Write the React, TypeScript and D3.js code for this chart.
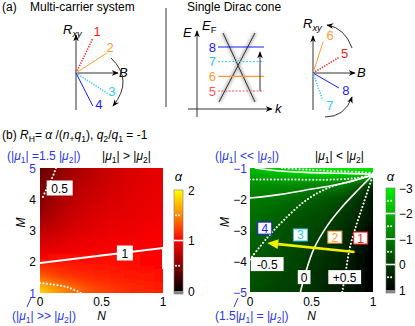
import React from 'react';
import * as d3 from 'd3';

const FONT = '"Liberation Sans", Arial, Helvetica, sans-serif';
const BLUE = '#2b36e6';
const RED = '#ff1a1a';
const ORANGE = '#ff9a33';
const CYAN = '#33c8f5';
const DBLUE = '#1a1aff';

// ---- panel (b) left: alpha read on a grid (rows M = 5..1, cols N = 0..1)
const nGrid = [0, 0.125, 0.25, 0.375, 0.5, 0.625, 0.75, 0.875, 1];
const mGridLeft = [5, 4.5, 4, 3.5, 3, 2.5, 2, 1.5, 1];
const alphaLeft = [
  [0.40, 0.50, 0.62, 0.70, 0.76, 0.81, 0.85, 0.88, 0.90],
  [0.45, 0.57, 0.67, 0.74, 0.79, 0.83, 0.87, 0.89, 0.91],
  [0.50, 0.63, 0.72, 0.78, 0.83, 0.86, 0.89, 0.91, 0.93],
  [0.60, 0.70, 0.78, 0.83, 0.87, 0.89, 0.91, 0.93, 0.95],
  [0.72, 0.79, 0.84, 0.88, 0.91, 0.93, 0.94, 0.96, 0.97],
  [0.86, 0.89, 0.92, 0.94, 0.96, 0.97, 0.97, 0.98, 0.99],
  [1.02, 1.03, 1.03, 1.03, 1.03, 1.03, 1.03, 1.02, 1.02],
  [1.33, 1.24, 1.18, 1.14, 1.12, 1.10, 1.09, 1.08, 1.06],
  [1.85, 1.62, 1.45, 1.33, 1.25, 1.20, 1.16, 1.13, 1.10],
];
// contours (N, M)
const leftC05 = [[0.13, 5], [0.09, 4.6], [0.05, 4.3], [0.015, 4.0]];
const leftC1 = [[0, 1.96], [0.5, 2.2], [1, 2.44], [1, 1.77]];
const leftC15 = [[0, 1.32], [0.22, 1.19], [0.33, 1.0]];

// ---- panel (b) right: rows M = -1..-5
const mGridRight = [-1, -1.5, -2, -2.5, -3, -3.5, -4, -4.5, -5];
const alphaRight = [
  [-2.1, -2.3, -2.5, -2.8, -3.0, -3.0, -3.0, -3.0, -3.0],
  [-1.4, -1.38, -1.35, -1.3, -1.2, -1.2, -1.0, -0.4, 0.6],
  [-1.0, -0.95, -0.9, -0.75, -0.55, -0.4, -0.2, 0.12, 0.8],
  [-0.85, -0.78, -0.62, -0.4, -0.3, -0.2, 0.08, 0.3, 0.85],
  [-0.72, -0.62, -0.42, -0.27, -0.17, 0.03, 0.2, 0.55, 0.9],
  [-0.6, -0.47, -0.3, -0.18, -0.03, 0.15, 0.3, 0.65, 0.92],
  [-0.49, -0.36, -0.2, -0.11, 0.08, 0.25, 0.38, 0.72, 0.95],
  [-0.4, -0.27, -0.12, -0.06, 0.15, 0.32, 0.44, 0.78, 0.97],
  [-0.32, -0.2, -0.05, -0.02, 0.2, 0.38, 0.5, 0.82, 1.0],
];
const rightContours = [
  { level: -2.5, pts: [[0.26, -1.0], [0.45, -1.05], [0.7, -1.1], [0.9, -1.13], [1, -1.16]] },
  { level: -2, pts: [[0.04, -1.0], [0.2, -1.08], [0.45, -1.14], [0.73, -1.17], [1, -1.2]] },
  { level: -1.5, pts: [[0, -1.37], [0.3, -1.37], [0.6, -1.38], [0.85, -1.33], [1, -1.22]] },
  { level: -1, pts: [[0, -1.97], [0.25, -1.85], [0.5, -1.68], [0.75, -1.5], [1, -1.22]] },
  { level: -0.5, pts: [[0, -3.95], [0.14, -3.25], [0.27, -2.7], [0.46, -2.03], [0.65, -1.62], [0.85, -1.4], [1, -1.22]] },
  { level: 0, pts: [[0.41, -5], [0.45, -4.4], [0.52, -3.6], [0.63, -2.85], [0.75, -2.25], [0.88, -1.7], [1, -1.22]] },
  { level: 0.5, pts: [[0.75, -5], [0.78, -4.3], [0.81, -3.6], [0.86, -2.9], [0.91, -2.3], [0.96, -1.7], [1, -1.22]] },
];
const rightLabels = [
  { text: '-0.5', n: 0.14, m: -4.1 },
  { text: '0', n: 0.44, m: -4.52 },
  { text: '+0.5', n: 0.77, m: -4.52 },
];
const pathBoxes = [
  { text: '4', n: 0.12, m: -2.94, color: DBLUE },
  { text: '3', n: 0.41, m: -3.16, color: CYAN },
  { text: '2', n: 0.69, m: -3.23, color: ORANGE },
  { text: '1', n: 0.9, m: -3.26, color: RED },
];
const arrowTail = [0.85, -3.71];
const arrowHead = [0.14, -3.42];

const nTicks = [0, 0.5, 1];
const mTicksLeft = [5, 4, 3, 2, 1];
const mTicksRight = [-1, -2, -3, -4, -5];
const cbTicksLeft = [2, 1, 0];
const cbTicksRight = [-3, -2, -1, 0, 1];
const cbSolidLeft = [1];
const cbDotLeft = [0.5, 1.5];
const cbSolidRight = [-2, -1, 0];
const cbDotRight = [-2.5, -1.5, -0.5, 0.5];

// ---- panel (a) schematics
const multiLines = [
  { label: '1', color: RED, dotted: true, angle: 64, len: 39, ox: 4, oy: -6 },
  { label: '2', color: ORANGE, dotted: false, angle: 33, len: 37, ox: 3, oy: -5 },
  { label: '3', color: CYAN, dotted: true, angle: -33, len: 38, ox: 4, oy: -2 },
  { label: '4', color: DBLUE, dotted: false, angle: -63, len: 37, ox: 6, oy: -1 },
];
const diracLines = [
  { label: '6', color: ORANGE, dotted: false, angle: 72, len: 33, ox: 7, oy: -6 },
  { label: '5', color: RED, dotted: true, angle: 31, len: 31, ox: 5, oy: -4 },
  { label: '8', color: DBLUE, dotted: false, angle: -30, len: 30, ox: 7, oy: 2 },
  { label: '7', color: CYAN, dotted: true, angle: -70, len: 29, ox: 7, oy: 5 },
];
const fermiLevels = [
  { label: '8', e: 3, color: DBLUE, dashed: false },
  { label: '7', e: 2, color: CYAN, dashed: true },
  { label: '6', e: 1, color: ORANGE, dashed: false },
  { label: '5', e: 0, color: '#ff5555', dashed: true },
];

type Seg = { t: string; sub?: boolean; it?: boolean };

function Rich({ x, y, segs, fill = '#000', size = 12, anchor = 'start' }:
  { x: number; y: number; segs: Seg[]; fill?: string; size?: number; anchor?: string }) {
  let cur = 0;
  const spans = segs.map((s, i) => {
    const target = s.sub ? 3 : 0;
    const dy = target - cur;
    cur = target;
    return (
      <tspan key={i} dy={dy} fontSize={s.sub ? size * 0.72 : size} fontStyle={s.it ? 'italic' : 'normal'}>
        {s.t}
      </tspan>
    );
  });
  return (
    <text x={x} y={y} fill={fill} fontSize={size} textAnchor={anchor as any}>
      {spans}
    </text>
  );
}

function heatCells(grid: number[][], ns: number[], ms: number[], x: any, y: any, col: any, key: string) {
  const out: any[] = [];
  const dx = Math.abs(x(ns[1]) - x(ns[0]));
  const dy = Math.abs(y(ms[1]) - y(ms[0]));
  ms.forEach((m, i) =>
    ns.forEach((n, j) => {
      let x0 = x(n) - dx / 2, x1 = x(n) + dx / 2, y0 = y(m) - dy / 2, y1 = y(m) + dy / 2;
      if (j === 0) x0 -= 16;
      if (j === ns.length - 1) x1 += 16;
      if (i === 0) y0 -= 16;
      if (i === ms.length - 1) y1 += 16;
      out.push(<rect key={`${key}${i}-${j}`} x={x0} y={y0} width={x1 - x0 + 0.6} height={y1 - y0 + 0.6} fill={col(grid[i][j])} />);
    })
  );
  return out;
}

function Schematic({ ox, oy, lines }: { ox: number; oy: number; lines: typeof multiLines }) {
  return (
    <g>
      {lines.map((l) => {
        const a = (l.angle * Math.PI) / 180;
        const ex = ox + l.len * Math.cos(a);
        const ey = oy - l.len * Math.sin(a);
        return (
          <g key={l.label}>
            <line x1={ox} y1={oy} x2={ex} y2={ey} stroke={l.color} strokeWidth={l.dotted ? 1.6 : 1}
              strokeDasharray={l.dotted ? '1.2,1.4' : undefined} />
            <text x={ex + l.ox} y={ey + l.oy + 4.5} fill={l.color} fontSize={13} textAnchor="middle">{l.label}</text>
          </g>
        );
      })}
    </g>
  );
}

export default function App() {
  const W = 415, H = 326;
  const xL = d3.scaleLinear().domain([0, 1]).range([40, 163]);
  const yL = d3.scaleLinear().domain([1, 5]).range([293, 168]);
  const xR = d3.scaleLinear().domain([0, 1]).range([250, 373]);
  const yR = d3.scaleLinear().domain([-5, -1]).range([292, 168]);
  const colL = d3.scaleLinear<string>().domain([0, 1, 1.5, 2]).range(['#000000', '#ff0000', '#ff8800', '#ffff00']).clamp(true);
  const colR = d3.scaleLinear<string>().domain([1, -3]).range(['#000000', '#00f000']).clamp(true);
  const cbL = d3.scaleLinear().domain([0, 2]).range([291, 190]);
  const cbR = d3.scaleLinear().domain([1, -3]).range([290, 188]);

  const lineL = d3.line<number[]>().x((d) => xL(d[0])).y((d) => yL(d[1])).curve(d3.curveCatmullRom);
  const lineLlin = d3.line<number[]>().x((d) => xL(d[0])).y((d) => yL(d[1]));
  const lineR = d3.line<number[]>().x((d) => xR(d[0])).y((d) => yR(d[1])).curve(d3.curveCatmullRom);

  const dotStyle = { stroke: '#fff', strokeWidth: 2, strokeDasharray: '0.1,3.4', strokeLinecap: 'round' as const, fill: 'none' };
  const solidStyle = { stroke: '#fff', strokeWidth: 1.6, fill: 'none' };

  // middle schematic scale
  const eY = d3.scaleLinear().domain([0, 3]).range([91, 47]);

  // yellow arrow geometry
  const tx = xR(arrowTail[0]), ty = yR(arrowTail[1]);
  const hx = xR(arrowHead[0]), hy = yR(arrowHead[1]);
  const ang = Math.atan2(hy - ty, hx - tx);
  const hl = 11, hw = 5;
  const bx = hx - hl * Math.cos(ang), by = hy - hl * Math.sin(ang);
  const head = [
    [hx, hy],
    [bx + hw * Math.sin(ang), by - hw * Math.cos(ang)],
    [bx - hw * Math.sin(ang), by + hw * Math.cos(ang)],
  ];

  const muTop: Seg[] = [{ t: '(|' }, { t: 'μ', it: true }, { t: '1', sub: true }, { t: '| =1.5 |' }, { t: 'μ', it: true }, { t: '2', sub: true }, { t: '|)' }];
  const muGt: Seg[] = [{ t: '|' }, { t: 'μ', it: true }, { t: '1', sub: true }, { t: '| > |' }, { t: 'μ', it: true }, { t: '2', sub: true }, { t: '|' }];
  const muLt: Seg[] = [{ t: '|' }, { t: 'μ', it: true }, { t: '1', sub: true }, { t: '| < |' }, { t: 'μ', it: true }, { t: '2', sub: true }, { t: '|' }];
  const muGG: Seg[] = [{ t: '(|' }, { t: 'μ', it: true }, { t: '1', sub: true }, { t: '| >> |' }, { t: 'μ', it: true }, { t: '2', sub: true }, { t: '|)' }];
  const muLL: Seg[] = [{ t: '(|' }, { t: 'μ', it: true }, { t: '1', sub: true }, { t: '| << |' }, { t: 'μ', it: true }, { t: '2', sub: true }, { t: '|)' }];
  const muEq: Seg[] = [{ t: '(1.5|' }, { t: 'μ', it: true }, { t: '1', sub: true }, { t: '| = |' }, { t: 'μ', it: true }, { t: '2', sub: true }, { t: '|)' }];
  const title: Seg[] = [
    { t: '(b) ' }, { t: 'R', it: true }, { t: 'H', sub: true }, { t: '= ' }, { t: 'α', it: true }, { t: ' /(' },
    { t: 'n', it: true }, { t: '+', sub: true }, { t: 'q', it: true }, { t: '1', sub: true }, { t: '), ' },
    { t: 'q', it: true }, { t: '2', sub: true }, { t: '/' }, { t: 'q', it: true }, { t: '1', sub: true }, { t: ' = -1' },
  ];

  return (
    <svg width={W} height={H} style={{ position: 'absolute', left: 0, top: 0, background: '#fff' }} fontFamily={FONT}>
      <defs>
        <marker id="ah" viewBox="0 0 10 10" refX="9" refY="5" markerWidth="7" markerHeight="7" orient="auto-start-reverse">
          <path d="M0,1 L10,5 L0,9 L3,5 Z" fill="#000" />
        </marker>
        <filter id="blur" x="-30%" y="-30%" width="160%" height="160%">
          <feGaussianBlur stdDeviation="6" />
        </filter>
        <filter id="soft" x="-30%" y="-30%" width="160%" height="160%">
          <feGaussianBlur stdDeviation="1.6" />
        </filter>
        <clipPath id="clipL"><rect x={xL(0)} y={yL(5)} width={xL(1) - xL(0)} height={yL(1) - yL(5)} /></clipPath>
        <clipPath id="clipR"><rect x={xR(0)} y={yR(-1)} width={xR(1) - xR(0)} height={yR(-5) - yR(-1)} /></clipPath>
        <linearGradient id="gL" x1="0" y1="1" x2="0" y2="0">
          {[0, 0.5, 1, 1.5, 2].map((v) => <stop key={v} offset={v / 2} stopColor={colL(v)} />)}
        </linearGradient>
        <linearGradient id="gR" x1="0" y1="1" x2="0" y2="0">
          {[1, -3].map((v) => <stop key={v} offset={(1 - v) / 4} stopColor={colR(v)} />)}
        </linearGradient>
      </defs>

      {/* ---------- (a) ---------- */}
      <text x={2} y={11} fontSize={12}>(a)</text>
      <text x={30} y={11} fontSize={12}>Multi-carrier system</text>
      <text x={187} y={11} fontSize={12}>Single Dirac cone</text>
      <line x1={166} y1={8} x2={166} y2={107} stroke="#333" strokeWidth={1} />

      {/* left schematic */}
      <line x1={76} y1={110} x2={76} y2={35} stroke="#333" markerEnd="url(#ah)" />
      <line x1={76} y1={73} x2={118} y2={73} stroke="#333" markerEnd="url(#ah)" />
      <Rich x={63} y={34} segs={[{ t: 'R', it: true }, { t: 'xy', sub: true, it: true }]} size={13} />
      <text x={119} y={77} fontSize={13} fontStyle="italic">B</text>
      <Schematic ox={76} oy={73} lines={multiLines} />
      <path d="M111,58 Q134,80 113,106" fill="none" stroke="#333" markerEnd="url(#ah)" />

      {/* middle schematic */}
      <line x1={197} y1={117} x2={197} y2={31} stroke="#333" markerEnd="url(#ah)" />
      <line x1={188} y1={109} x2={272} y2={109} stroke="#333" markerEnd="url(#ah)" />
      <text x={183} y={37} fontSize={13} fontStyle="italic">E</text>
      <Rich x={202} y={30} segs={[{ t: 'E', it: true }, { t: 'F', sub: true }]} size={13} />
      <text x={275} y={113} fontSize={13} fontStyle="italic">k</text>
      <g filter="url(#soft)" stroke="#aaa" strokeWidth={4} opacity={0.7}>
        <line x1={223} y1={33} x2={255} y2={102} />
        <line x1={255} y1={33} x2={219} y2={102} />
      </g>
      <line x1={223} y1={33} x2={255} y2={102} stroke="#333" />
      <line x1={255} y1={33} x2={219} y2={102} stroke="#333" />
      {fermiLevels.map((f) => (
        <g key={f.label}>
          <line x1={218} x2={264} y1={eY(f.e)} y2={eY(f.e)} stroke={f.color} strokeWidth={f.dashed ? 1 : 1.2}
            strokeDasharray={f.dashed ? '2,1.5' : undefined} />
          <text x={216} y={eY(f.e) + 4.5} fill={f.color} fontSize={13} textAnchor="end">{f.label}</text>
        </g>
      ))}
      <line x1={260} y1={eY(0)} x2={260} y2={eY(3) + 5} stroke="#333" markerEnd="url(#ah)" />

      {/* right schematic */}
      <line x1={313} y1={110} x2={313} y2={36} stroke="#333" markerEnd="url(#ah)" />
      <line x1={313} y1={73} x2={355} y2={73} stroke="#333" markerEnd="url(#ah)" />
      <Rich x={303} y={28} segs={[{ t: 'R', it: true }, { t: 'xy', sub: true, it: true }]} size={13} />
      <text x={357} y={77} fontSize={13} fontStyle="italic">B</text>
      <Schematic ox={313} oy={73} lines={diracLines} />
      <path d="M352,48 Q345,28 327,25" fill="none" stroke="#333" markerEnd="url(#ah)" />
      <path d="M325,117 Q345,117 352,97" fill="none" stroke="#333" markerEnd="url(#ah)" />

      {/* ---------- (b) ---------- */}
      <Rich x={2} y={139} segs={title} size={12} />

      {/* left heatmap */}
      <g clipPath="url(#clipL)">
        <g filter="url(#blur)">{heatCells(alphaLeft, nGrid, mGridLeft, xL, yL, colL, 'l')}</g>
        <path d={lineL(leftC05) || ''} {...dotStyle} />
        <path d={lineLlin(leftC1) || ''} {...solidStyle} strokeWidth={2} />
        <path d={lineL(leftC15) || ''} {...dotStyle} />
      </g>
      <rect x={xL(0.16) - 13} y={yL(4.36) - 7.5} width={26} height={15} fill="#fff" />
      <text x={xL(0.16)} y={yL(4.36) + 4.5} fontSize={12} textAnchor="middle">0.5</text>
      <rect x={xL(0.69) - 8} y={yL(2.28) - 7.5} width={16} height={15} fill="#fff" />
      <text x={xL(0.69)} y={yL(2.28) + 4.5} fontSize={12} textAnchor="middle">1</text>

      {mTicksLeft.map((m) => (
        <text key={m} x={36} y={yL(m) + 4.5} fontSize={12} textAnchor="end" fill={m === 5 || m === 1 ? BLUE : '#000'}>{m}</text>
      ))}
      {nTicks.map((n) => (
        <text key={n} x={xL(n)} y={306} fontSize={12} textAnchor="middle">{n}</text>
      ))}
      <text x={xL(0.5)} y={320} fontSize={12} fontStyle="italic" textAnchor="middle">N</text>
      <text transform={`translate(25,${yL(3) - 8}) rotate(-90)`} fontSize={12} fontStyle="italic" textAnchor="middle">M</text>
      <Rich x={7} y={160} segs={muTop} fill={BLUE} />
      <Rich x={102} y={160} segs={muGt} />
      <line x1={31} y1={298} x2={27} y2={307} stroke={BLUE} strokeWidth={1} />
      <Rich x={12} y={320} segs={muGG} fill={BLUE} />

      {/* left colorbar */}
      <rect x={174} y={cbL(2)} width={9} height={cbL(0) - cbL(2)} fill="url(#gL)" />
      <rect x={174} y={cbL(0)} width={9} height={3} fill="#888" />
      <rect x={174} y={cbL(2)} width={9} height={cbL(0) - cbL(2) + 3} fill="none" stroke="#777" strokeWidth={0.6} />
      {cbSolidLeft.map((v) => <line key={v} x1={174} x2={183} y1={cbL(v)} y2={cbL(v)} {...solidStyle} />)}
      {cbDotLeft.map((v) => <line key={v} x1={176} x2={182} y1={cbL(v)} y2={cbL(v)} {...dotStyle} strokeDasharray="0.1,3" />)}
      {cbTicksLeft.map((v) => <text key={v} x={188} y={cbL(v) + 4.5} fontSize={12}>{v}</text>)}
      <text x={178.5} y={181} fontSize={13} fontStyle="italic" textAnchor="middle">α</text>

      {/* right heatmap */}
      <g clipPath="url(#clipR)">
        <g filter="url(#blur)">{heatCells(alphaRight, nGrid, mGridRight, xR, yR, colR, 'r')}</g>
        {rightContours.map((c) => (
          <path key={c.level} d={lineR(c.pts) || ''} {...(Number.isInteger(c.level) ? solidStyle : dotStyle)} />
        ))}
      </g>
      {rightLabels.map((l) => {
        const w = l.text.length * 6.7 + 6;
        return (
          <g key={l.text}>
            <rect x={xR(l.n) - w / 2} y={yR(l.m) - 7} width={w} height={14} fill="#fff" />
            <text x={xR(l.n)} y={yR(l.m) + 4.5} fontSize={12} textAnchor="middle">{l.text}</text>
          </g>
        );
      })}
      {pathBoxes.map((b) => (
        <g key={b.text}>
          <rect x={xR(b.n) - 7} y={yR(b.m) - 6} width={14} height={12} fill="#fff" stroke={b.color} strokeWidth={1} />
          <text x={xR(b.n)} y={yR(b.m) + 4.5} fontSize={12} textAnchor="middle" fill={b.color}>{b.text}</text>
        </g>
      ))}
      <line x1={tx} y1={ty} x2={bx} y2={by} stroke="#f2f000" strokeWidth={2.6} />
      <polygon points={head.map((p) => p.join(',')).join(' ')} fill="#f2f000" />

      {mTicksRight.map((m) => (
        <text key={m} x={247} y={yR(m) + 4.5} fontSize={12} textAnchor="end" fill={m === -1 || m === -5 ? BLUE : '#000'}>{`\u2212${Math.abs(m)}`}</text>
      ))}
      {nTicks.map((n) => (
        <text key={n} x={xR(n)} y={306} fontSize={12} textAnchor="middle">{n}</text>
      ))}
      <text x={xR(0.5)} y={320} fontSize={12} fontStyle="italic" textAnchor="middle">N</text>
      <text transform={`translate(229,${yR(-3) - 8}) rotate(-90)`} fontSize={12} fontStyle="italic" textAnchor="middle">M</text>
      <Rich x={215} y={160} segs={muLL} fill={BLUE} />
      <Rich x={315} y={160} segs={muLt} />
      <line x1={238} y1={298} x2={234} y2={307} stroke={BLUE} strokeWidth={1} />
      <Rich x={215} y={320} segs={muEq} fill={BLUE} />

      {/* right colorbar */}
      <rect x={386} y={cbR(-3)} width={9} height={cbR(1) - cbR(-3)} fill="url(#gR)" />
      <rect x={386} y={cbR(1)} width={9} height={3} fill="#888" />
      <rect x={386} y={cbR(-3)} width={9} height={cbR(1) - cbR(-3) + 3} fill="none" stroke="#777" strokeWidth={0.6} />
      {cbSolidRight.map((v) => <line key={v} x1={386} x2={395} y1={cbR(v)} y2={cbR(v)} {...solidStyle} />)}
      {cbDotRight.map((v) => <line key={v} x1={388} x2={394} y1={cbR(v)} y2={cbR(v)} {...dotStyle} strokeDasharray="0.1,3" />)}
      {cbTicksRight.map((v) => (
        <text key={v} x={399} y={cbR(v) + 4.5} fontSize={12}>{v < 0 ? `\u2212${Math.abs(v)}` : v}</text>
      ))}
      <text x={390.5} y={181} fontSize={13} fontStyle="italic" textAnchor="middle">α</text>
    </svg>
  );
}
